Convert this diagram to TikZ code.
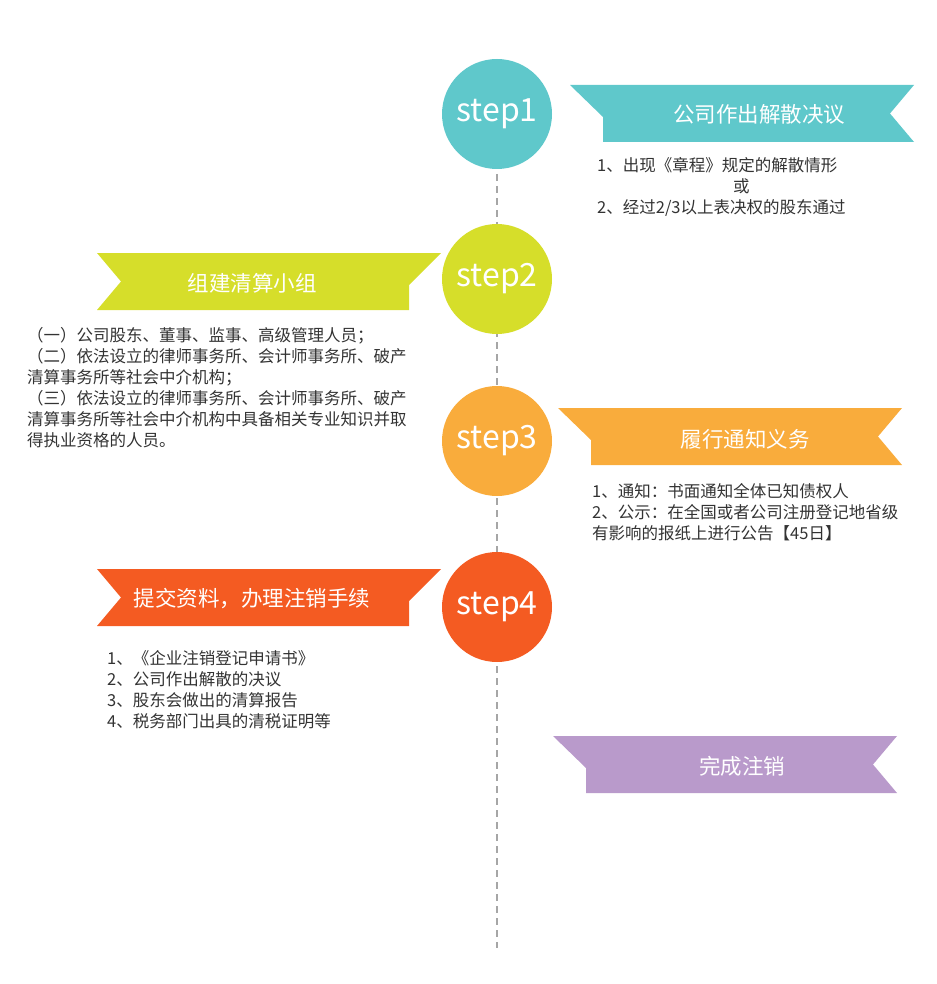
\documentclass[tikz,border=0pt]{standalone}
\usepackage{fontspec}
\setmainfont{Noto Sans CJK SC}
\usetikzlibrary{positioning}
\definecolor{teal1}{HTML}{5FC8CB}
\definecolor{lime1}{HTML}{D6DE2A}
\definecolor{orange1}{HTML}{F9AC3C}
\definecolor{red1}{HTML}{F45B22}
\definecolor{purple1}{HTML}{B99ACB}
\definecolor{txt}{HTML}{333333}
\tikzstyle{every node}=[font=\fontsize{16.5}{21}\selectfont, text=txt]
% ribbon opening to the right (fold on the left): x0, y0, colour
\newcommand{\ribbonR}[3]{\fill[#3] (#1,#2) -- ++(344,0) -- ++(-24,28.5) -- ++(24,28.5) -- ++(-311,0) -- ++(0,-25) -- cycle;}
% ribbon opening to the left (fold on the right)
\newcommand{\ribbonL}[3]{\fill[#3] (#1,#2) -- ++(344,0) -- ++(-32,32) -- ++(0,25) -- ++(-312,0) -- ++(24,-28.5) -- cycle;}
\begin{document}
\begin{tikzpicture}[x=1pt, y=-1pt,
    stepnode/.style={circle, minimum size=110pt, inner sep=0pt, text=white, font=\fontsize{32}{34}\selectfont},
    bannertext/.style={text=white, font=\fontsize{21.5}{24}\selectfont},
    body/.style={anchor=north west, align=left, inner sep=0pt}]
    \useasboundingbox (0,0) rectangle (936,984);
    \coordinate (lineend) at (497,948);
    \coordinate (linestart) at (497,114);
    \draw[gray!70, line width=2pt, dash pattern=on 7pt off 5pt] (linestart) -- (lineend);
    \node[stepnode, fill=teal1] (s1) at (497,114) {step1};
    \node[stepnode, fill=lime1] (s2) at (497,279) {step2};
    \node[stepnode, fill=orange1] (s3) at (497,441) {step3};
    \node[stepnode, fill=red1] (s4) at (497,607) {step4};
    % banners
    \ribbonR{570}{85}{teal1}
    \node[bannertext] (b1) at (759,114) {公司作出解散决议};
    \ribbonL{97}{253}{lime1}
    \node[bannertext] (b2) at (252,283) {组建清算小组};
    \ribbonR{558}{408}{orange1}
    \node[bannertext] (b3) at (745,439) {履行通知义务};
    \ribbonL{97}{569}{red1}
    \node[bannertext] (b4) at (252,599) {提交资料，办理注销手续};
    \ribbonR{553}{736}{purple1}
    \node[bannertext] (b5) at (742,766) {完成注销};
    % texts
    \node[body] (t1a) at (597,157) {1、出现《章程》规定的解散情形};
    \node[body] (t1b) at (733,178) {或};
    \node[body] (t1c) at (597,199) {2、经过2/3以上表决权的股东通过};
    \node[body] (t2) at (27,327) {（一）公司股东、董事、监事、高级管理人员；\\
      （二）依法设立的律师事务所、会计师事务所、破产\\
      清算事务所等社会中介机构；\\
      （三）依法设立的律师事务所、会计师事务所、破产\\
      清算事务所等社会中介机构中具备相关专业知识并取\\
      得执业资格的人员。};
    \node[body] (t3) at (592,483) {1、通知：书面通知全体已知债权人\\
      2、公示：在全国或者公司注册登记地省级\\
      有影响的报纸上进行公告【45日】};
    \node[body] (t4) at (107,650) {1、《企业注销登记申请书》\\
      2、公司作出解散的决议\\
      3、股东会做出的清算报告\\
      4、税务部门出具的清税证明等};
\end{tikzpicture}
\end{document}
